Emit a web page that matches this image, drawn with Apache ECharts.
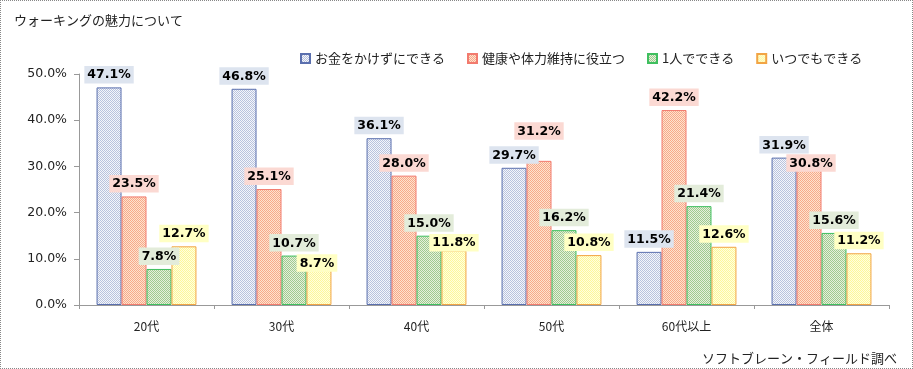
<!DOCTYPE html>
<html><head><meta charset="utf-8">
<script src="https://cdn.jsdelivr.net/npm/echarts@6/dist/echarts.min.js"></script>
<style>
html,body{margin:0;padding:0;background:#fff;}
#c{width:913px;height:369px;box-sizing:border-box;border:1px dotted #888;}
</style></head>
<body><div id="c"></div>
<script>
const categories = ['20代','30代','40代','50代','60代以上','全体'];
const seriesNames = ['お金をかけずにできる','健康や体力維持に役立つ','1人でできる','いつでもできる'];
const sMoney  = [47.1, 46.8, 36.1, 29.7, 11.5, 31.9];
const sHealth = [23.5, 25.1, 28.0, 31.2, 42.2, 30.8];
const sAlone  = [7.8, 10.7, 15.0, 16.2, 21.4, 15.6];
const sAnytime= [12.7, 8.7, 11.8, 10.8, 12.6, 11.2];
const yTicks = [0,10,20,30,40,50];

// label placement tweaks (series index - category index) mimicking the original layout
const labelShift = {'1-3':[0,-17], '1-5':[2,13], '3-1':[-2,11], '3-2':[0,5]};

function pat(a,b){
  const c=document.createElement('canvas');c.width=2;c.height=2;
  const x=c.getContext('2d');
  x.fillStyle=b;x.fillRect(0,0,2,2);
  x.fillStyle=a;x.fillRect(0,0,1,1);x.fillRect(1,1,1,1);
  return {image:c,repeat:'repeat'};
}
const styles=[
  {fill:pat('#b9c3dd','#f4f6fb'), border:'#5a6fae', lbl:'#dde4ef'},
  {fill:pat('#f7a98a','#fde3cf'), border:'#f27a6e', lbl:'#fbd9d3'},
  {fill:pat('#9fcb8f','#e6efdc'), border:'#3fbf5f', lbl:'#e3ecda'},
  {fill:pat('#fdf79a','#fffee0'), border:'#f2a444', lbl:'#ffffc4'}
];
const data=[sMoney,sHealth,sAlone,sAnytime];
const chart=echarts.init(document.getElementById('c'));
chart.setOption({
  animation:false,
  textStyle:{fontFamily:'"DejaVu Sans","Noto Sans CJK JP",sans-serif'},
  title:[
    {text:'ウォーキングの魅力について',left:8,top:8,textStyle:{fontSize:13,fontWeight:'normal',color:'#222',fontFamily:'"Noto Sans CJK JP",sans-serif'}},
    {text:'ソフトブレーン・フィールド調べ',right:10,top:346,textStyle:{fontSize:13,fontWeight:'normal',color:'#222',fontFamily:'"Noto Sans CJK JP",sans-serif'}}
  ],
  legend:{left:294,top:46,icon:'rect',itemWidth:9,itemHeight:9,itemGap:22,
    textStyle:{fontSize:13,color:'#222',fontFamily:'"Noto Sans CJK JP",sans-serif'},
    data:seriesNames},
  grid:{left:78,right:23,top:73,bottom:63},
  xAxis:{type:'category',data:categories,
    axisLine:{lineStyle:{color:'#999'}},
    axisTick:{show:true,length:4,lineStyle:{color:'#999'}},
    axisLabel:{fontSize:12,color:'#222',margin:15,fontFamily:'"Noto Sans CJK JP",sans-serif'}},
  yAxis:{type:'value',min:yTicks[0],max:yTicks[yTicks.length-1],interval:yTicks[1]-yTicks[0],
    axisLine:{show:true,lineStyle:{color:'#999'}},
    axisTick:{show:true,length:5,lineStyle:{color:'#999'}},
    splitLine:{show:false},
    axisLabel:{fontSize:12.5,color:'#222',margin:12,formatter:v=>v.toFixed(1)+'%'}},
  series:data.map((d,i)=>({
    name:seriesNames[i],type:'bar',
    data:d.map((v,j)=>{
      const off=labelShift[i+'-'+j];
      return off?{value:v,label:{offset:off}}:v;
    }),
    barGap:'0%',barCategoryGap:'26%',
    itemStyle:{color:styles[i].fill,borderColor:styles[i].border,borderWidth:1},
    label:{show:true,position:'top',distance:4,formatter:p=>p.value.toFixed(1)+'%',
      fontSize:12.5,fontWeight:'bold',color:'#000',backgroundColor:styles[i].lbl,padding:[3,3,2,3]}
  }))
});
</script></body></html>
